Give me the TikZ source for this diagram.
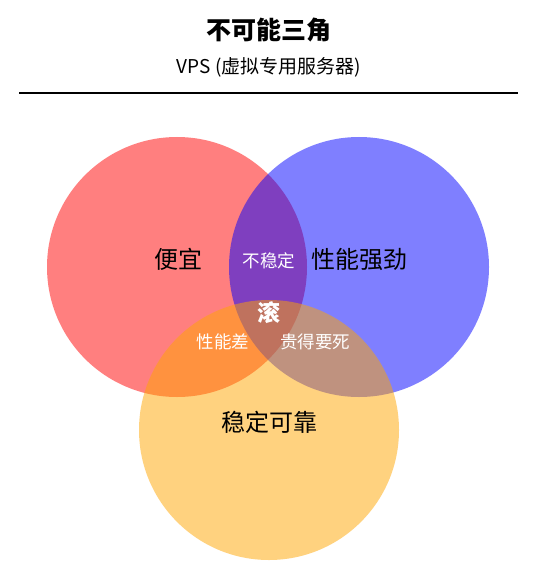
\documentclass[tikz,border=0pt]{standalone}
\usepackage{fontspec}
\setmainfont{Noto Sans CJK SC}
\definecolor{webor}{RGB}{255,165,0}

\begin{document}
\begin{tikzpicture}[x=1pt,y=-1pt,
  big/.style={font=\fontsize{24}{28}\selectfont},
  small/.style={font=\fontsize{17.5}{20}\selectfont, text=white}]
\useasboundingbox (0,0) rectangle (539,580);
\node (title) at (269,30) {\fontsize{25}{30}\selectfont\bfseries 不可能三角};
\node (sub) at (269,67) {\fontsize{19}{22}\selectfont VPS (虚拟专用服务器)};
\draw [line width=2pt] (19,93) -- (518,93);
\fill [red, opacity=0.5] (177,267) circle (130);
\fill [blue, opacity=0.5] (359,267) circle (130);
\fill [webor, opacity=0.5] (269,430) circle (130);
\node [big] (cheap) at (178,259) {便宜};
\node [big] (fast) at (359,259) {性能强劲};
\node [big] (stable) at (269,422) {稳定可靠};
\node [small] (unstable) at (269,261) {不稳定};
\node [small] (slow) at (223,342) {性能差};
\node [small] (pricey) at (315,342) {贵得要死};
\node [font=\fontsize{23}{26}\selectfont\bfseries, text=white] (gun) at (269,313) {滚};
\end{tikzpicture}
\end{document}
